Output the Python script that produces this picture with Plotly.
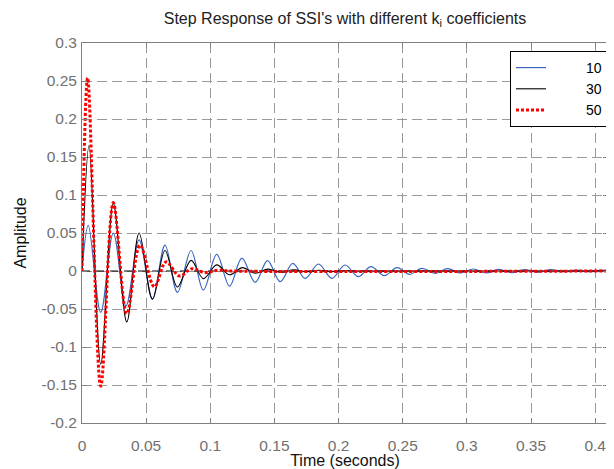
import plotly.graph_objects as go

# ---- data ----
t10 = [0, 0.0049, 0.0146, 0.0244, 0.0343, 0.0445, 0.0549, 0.0647, 0.0744, 0.0850,
       0.0946, 0.1050, 0.1150, 0.1246, 0.1350, 0.1446, 0.1545, 0.1643, 0.1740, 0.1843,
       0.1948, 0.2050, 0.2155, 0.2252, 0.2356, 0.2455, 0.2553, 0.2650, 0.2754, 0.2850,
       0.2950, 0.3050, 0.3150, 0.3247, 0.3350, 0.3450, 0.3550, 0.3650, 0.3750, 0.3853,
       0.3950, 0.4050, 0.41]
y10 = [0, 0.060, -0.0545, 0.050, -0.046, 0.041, -0.037, 0.034, -0.028, 0.027,
       -0.025, 0.022, -0.020, 0.017, -0.015, 0.0136, -0.014, 0.0101, -0.0097, 0.0092,
       -0.0097, 0.0079, -0.0075, 0.0057, -0.0062, 0.0044, -0.0044, 0.0035, -0.0030, 0.0030,
       -0.0026, 0.0026, -0.0026, 0.0022, -0.0022, 0.0018, -0.0018, 0.0018, -0.0010, 0.0013,
       -0.0010, 0.0012, 0.0]

t30 = [0, 0.0055, 0.0146, 0.0244, 0.0349, 0.0445, 0.0549, 0.0647, 0.0744, 0.0850,
       0.0946, 0.1050, 0.1150, 0.1250, 0.1350, 0.1450, 0.1550, 0.1650, 0.1750, 0.1850,
       0.1950, 0.2050, 0.2150, 0.41]
y30 = [0, 0.165, -0.1225, 0.089, -0.067, 0.050, -0.037, 0.027, -0.021, 0.014,
       -0.010, 0.008, -0.005, 0.0045, -0.003, 0.0025, -0.002, 0.0015, -0.001, 0.001,
       -0.0007, 0.0005, 0, 0]

t50 = [0, 0.0044, 0.0146, 0.0244, 0.0349, 0.0452, 0.0564, 0.0655, 0.0760, 0.0855,
       0.0960, 0.1060, 0.1160, 0.41]
y50 = [0, 0.254, -0.1515, 0.090, -0.056, 0.034, -0.021, 0.012, -0.0066, 0.003,
       -0.002, 0.001, 0, 0]

series_names = ["10", "30", "50"]

x_ref = [0, 0.41]
y_ref = [0, 0]

x_ticks = [0, 0.05, 0.1, 0.15, 0.2, 0.25, 0.3, 0.35, 0.4]
x_ticktext = ["0", "0.05", "0.1", "0.15", "0.2", "0.25", "0.3", "0.35", "0.4"]
y_ticks = [-0.2, -0.15, -0.1, -0.05, 0, 0.05, 0.1, 0.15, 0.2, 0.25, 0.3]
y_ticktext = ["-0.2", "-0.15", "-0.1", "-0.05", "0", "0.05", "0.1", "0.15", "0.2", "0.25", "0.3"]

FONT = "Liberation Sans, Arial, sans-serif"
PAD = "\u00a0" * 9

# page body has an 8px default margin: figure is sized so it fills the 614x469 window
W, H = 606, 461

fig = go.Figure()
fig.add_trace(go.Scatter(x=x_ref, y=y_ref, mode="lines", showlegend=False, hoverinfo="skip",
                         line=dict(color="black", width=1, dash="8px,6px")))
fig.add_trace(go.Scatter(x=t10, y=y10, mode="lines", name=PAD + series_names[0],
                         line=dict(color="#3b66bf", width=1.2, shape="spline", smoothing=1)))
fig.add_trace(go.Scatter(x=t30, y=y30, mode="lines", name=PAD + series_names[1],
                         line=dict(color="black", width=1.1, shape="spline", smoothing=1)))
fig.add_trace(go.Scatter(x=t50, y=y50, mode="lines", name=PAD + series_names[2],
                         line=dict(color="#ff0000", width=3, dash="3px,2px", shape="spline", smoothing=1)))

axis_common = dict(
    showline=True, linecolor="#808080", linewidth=1, mirror="ticks",
    ticks="inside", ticklen=5, tickcolor="#808080",
    showgrid=True, gridcolor="#999999", gridwidth=1, griddash="10px,5px",
    zeroline=False, automargin=False,
    tickfont=dict(family=FONT, size=15.5, color="#707070"),
)

fig.update_layout(
    width=W, height=H,
    margin=dict(l=74, r=6, t=35, b=46),
    paper_bgcolor="white", plot_bgcolor="white",
    font=dict(family=FONT, color="black"),
    title=dict(text="Step Response of SSI's with different k<sub>i</sub> coefficients",
               x=0.5, xref="paper", xanchor="center", y=1 - 10 / H, yanchor="middle",
               font=dict(family=FONT, size=16, color="#222222"), automargin=False),
    xaxis=dict(range=[0, 0.41], tickvals=x_ticks, ticktext=x_ticktext, ticklabelstandoff=8,
               title=dict(text="Time (seconds)", font=dict(family=FONT, size=16, color="#111111"), standoff=2),
               **axis_common),
    yaxis=dict(range=[-0.2, 0.3], tickvals=y_ticks, ticktext=y_ticktext, ticklabelstandoff=1,
               title=dict(text="Amplitude", font=dict(family=FONT, size=16, color="#111111"), standoff=10),
               **axis_common),
    legend=dict(x=1, xanchor="right", y=1 - 8 / 380, yanchor="top",
                bgcolor="white", bordercolor="black", borderwidth=1,
                font=dict(family=FONT, size=14, color="black"),
                tracegroupgap=0),
    showlegend=True,
)

fig.write_html("out.html")
